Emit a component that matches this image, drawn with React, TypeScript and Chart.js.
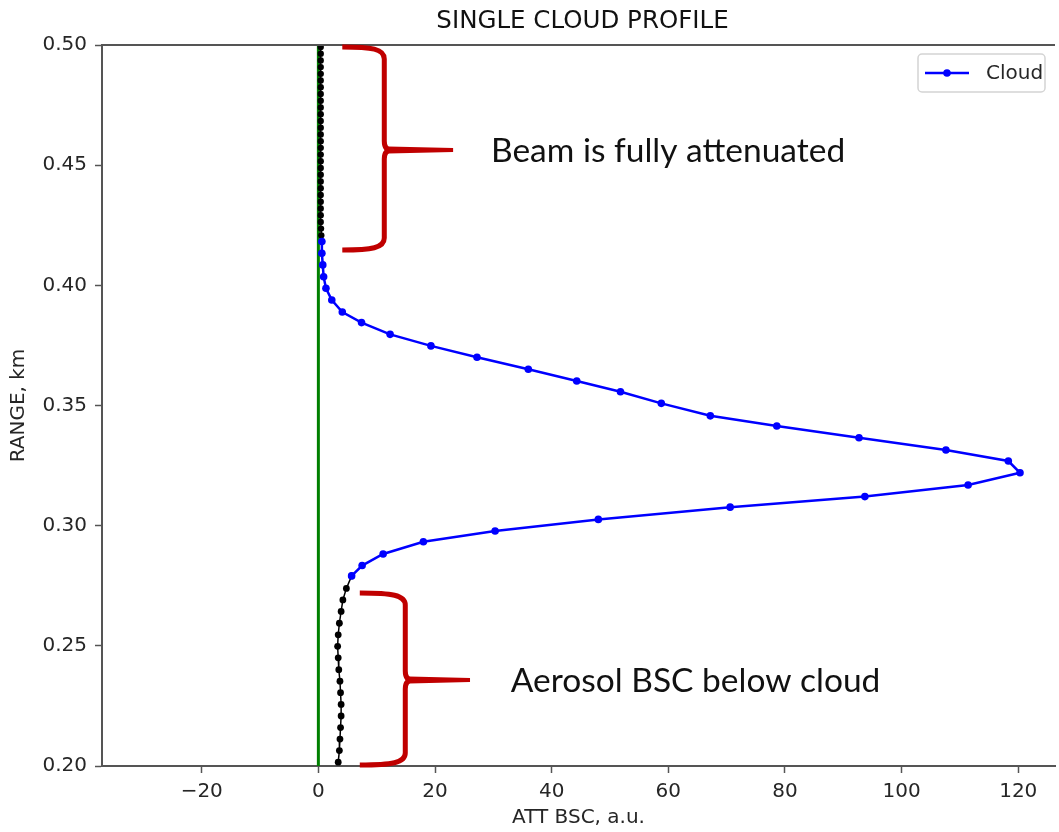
import React, { useEffect, useRef } from "react";
import { Chart, registerables } from "chart.js";

Chart.register(...registerables);

// ---- data ----
const cloudRange = [0.4182, 0.4133, 0.4085, 0.4036, 0.3988, 0.3939, 0.3889, 0.3845, 0.3796, 0.3748, 0.3701, 0.3651, 0.3602, 0.3557, 0.3509, 0.3457, 0.3415, 0.3366, 0.3315, 0.3269, 0.3220, 0.3169, 0.3121, 0.3077, 0.3026, 0.2978, 0.2933, 0.2882, 0.2834, 0.2791];
const cloudBsc = [0.6, 0.6, 0.75, 0.9, 1.3, 2.3, 4.1, 7.4, 12.3, 19.3, 27.2, 36.0, 44.3, 51.8, 58.8, 67.2, 78.6, 92.7, 107.6, 118.3, 120.3, 111.4, 93.7, 70.6, 48.0, 30.3, 18.0, 11.1, 7.5, 5.7];

const aboveRange = [0.4992, 0.4964, 0.4936, 0.4908, 0.4880, 0.4852, 0.4824, 0.4796, 0.4768, 0.4740, 0.4712, 0.4684, 0.4656, 0.4628, 0.4600, 0.4572, 0.4544, 0.4516, 0.4488, 0.4460, 0.4432, 0.4404, 0.4376, 0.4348, 0.4320, 0.4292, 0.4264, 0.4236, 0.4208];
const aboveBsc = [0.4, 0.4, 0.4, 0.4, 0.4, 0.4, 0.4, 0.4, 0.4, 0.4, 0.4, 0.4, 0.4, 0.4, 0.4, 0.4, 0.4, 0.4, 0.4, 0.4, 0.4, 0.4, 0.4, 0.4, 0.4, 0.4, 0.4, 0.45, 0.5];

const belowRange = [0.2791, 0.2739, 0.2691, 0.2643, 0.2594, 0.2546, 0.2498, 0.2450, 0.2401, 0.2353, 0.2305, 0.2256, 0.2208, 0.2160, 0.2112, 0.2064, 0.2016];
const belowBsc = [5.7, 4.8, 4.2, 3.9, 3.6, 3.4, 3.3, 3.4, 3.5, 3.7, 3.8, 3.9, 3.9, 3.8, 3.7, 3.6, 3.4];

const zeroRange = [0.2, 0.5];
const zeroBsc = [0, 0];

const xTicks = [-20, 0, 20, 40, 60, 80, 100, 120];
const yTicks = [0.2, 0.25, 0.3, 0.35, 0.4, 0.45, 0.5];

const chartTitle = "SINGLE CLOUD PROFILE";

// annotation braces (data units)
const noteLabels = ["Beam is fully attenuated", "Aerosol BSC below cloud"];
const noteTop = [0.4992, 0.2720];
const noteBottom = [0.4147, 0.2004];
const noteMid = [0.4563, 0.2358];
const noteArm = [4.1, 7.1];
const noteSpine = [11.3, 14.9];
const noteTip = [23.1, 26.0];
const noteText = [29.6, 33.0];

const TICK_FONT = { family: "'DejaVu Sans', sans-serif", size: 20 };
const TEXT_COLOR = "#262626";

const pts = (xs: number[], ys: number[]) => xs.map((x, i) => ({ x, y: ys[i] }));

const framePlugin = {
  id: "frameAndNotes",
  afterDatasetsDraw(chart: any) {
    const { ctx, chartArea, scales } = chart;
    const xs = scales.x;
    const ys = scales.y;
    ctx.save();
    // top spine
    ctx.strokeStyle = "#555";
    ctx.lineWidth = 2;
    ctx.beginPath();
    ctx.moveTo(chartArea.left - 1, chartArea.top);
    ctx.lineTo(chartArea.right, chartArea.top);
    ctx.stroke();

    // title centred over the axes
    ctx.fillStyle = "#111";
    ctx.font = "24.5px 'DejaVu Sans', sans-serif";
    ctx.textAlign = "center";
    ctx.textBaseline = "middle";
    ctx.fillText(chartTitle, (chartArea.left + chartArea.right) / 2 + 4, chartArea.top - 23);

    // braces
    for (let i = 0; i < noteLabels.length; i++) {
      const yt = ys.getPixelForValue(noteTop[i]);
      const yb = ys.getPixelForValue(noteBottom[i]);
      const ym = ys.getPixelForValue(noteMid[i]);
      const xa = xs.getPixelForValue(noteArm[i]);
      const xsp = xs.getPixelForValue(noteSpine[i]);
      const xt = xs.getPixelForValue(noteTip[i]);
      ctx.strokeStyle = "#c00000";
      ctx.lineWidth = 5;
      ctx.lineJoin = "round";
      ctx.lineCap = "butt";
      ctx.beginPath();
      ctx.moveTo(xa, yt);
      ctx.bezierCurveTo(xa + (xsp - xa) * 0.7, yt, xsp, yt + 2, xsp, yt + 12);
      ctx.lineTo(xsp, ym - 9);
      ctx.quadraticCurveTo(xsp, ym, xsp + 7, ym);
      ctx.moveTo(xsp, yb - 12);
      ctx.lineTo(xsp, ym + 9);
      ctx.quadraticCurveTo(xsp, ym, xsp + 7, ym);
      ctx.moveTo(xsp, yb - 12);
      ctx.bezierCurveTo(xsp, yb - 2, xa + (xsp - xa) * 0.7, yb, xa, yb);
      ctx.stroke();
      // tip
      ctx.fillStyle = "#c00000";
      ctx.beginPath();
      ctx.moveTo(xsp + 4, ym - 3.5);
      ctx.lineTo(xt, ym - 2);
      ctx.lineTo(xt, ym + 2);
      ctx.lineTo(xsp + 4, ym + 3.5);
      ctx.closePath();
      ctx.fill();

      ctx.fillStyle = "#111";
      ctx.font = "33.5px Lato, 'Open Sans', sans-serif";
      ctx.textBaseline = "middle";
      ctx.textAlign = "left";
      ctx.fillText(noteLabels[i], xs.getPixelForValue(noteText[i]), ym + 1);
    }

    // legend inside the plot (upper right)
    const ds = chart.data.datasets[0];
    const bw = 127, bh = 38;
    const bx = chartArea.right - 10 - bw;
    const by = chartArea.top + 9;
    ctx.fillStyle = "rgba(255,255,255,0.85)";
    ctx.strokeStyle = "#d4d4d4";
    ctx.lineWidth = 1.5;
    ctx.beginPath();
    (ctx as any).roundRect(bx, by, bw, bh, 4);
    ctx.fill();
    ctx.stroke();
    const ly = by + bh / 2;
    ctx.strokeStyle = ds.borderColor;
    ctx.lineWidth = 2.5;
    ctx.beginPath();
    ctx.moveTo(bx + 7, ly);
    ctx.lineTo(bx + 51, ly);
    ctx.stroke();
    ctx.fillStyle = ds.backgroundColor;
    ctx.beginPath();
    ctx.arc(bx + 29, ly, 3.8, 0, Math.PI * 2);
    ctx.fill();
    ctx.fillStyle = TEXT_COLOR;
    ctx.font = "20px 'DejaVu Sans', sans-serif";
    ctx.textBaseline = "middle";
    ctx.textAlign = "left";
    ctx.fillText(ds.label, bx + 68, ly + 1);
    ctx.restore();
  },
};

export default function App() {
  const ref = useRef<HTMLCanvasElement | null>(null);
  useEffect(() => {
    if (!ref.current) return;
    const chart = new Chart(ref.current, {
      type: "scatter",
      data: {
        datasets: [
          {
            label: "Cloud",
            data: pts(cloudBsc, cloudRange),
            showLine: true,
            borderColor: "#0000ff",
            backgroundColor: "#0000ff",
            borderWidth: 2.5,
            pointRadius: 3.8,
            pointBorderWidth: 0,
          },
          {
            label: "above",
            data: pts(aboveBsc, aboveRange),
            showLine: true,
            borderColor: "#000",
            backgroundColor: "#000",
            borderWidth: 1.5,
            pointRadius: 3.2,
            pointBorderWidth: 0,
          },
          {
            label: "below",
            data: pts(belowBsc, belowRange),
            showLine: true,
            borderColor: "#000",
            backgroundColor: "#000",
            borderWidth: 1.5,
            pointRadius: 3.4,
            pointBorderWidth: 0,
          },
          {
            label: "zero",
            data: pts(zeroBsc, zeroRange),
            showLine: true,
            borderColor: "#008000",
            backgroundColor: "#008000",
            borderWidth: 3,
            pointRadius: 0,
          },
        ],
      },
      options: {
        animation: false,
        responsive: true,
        maintainAspectRatio: false,
        layout: { padding: { top: 45, left: 0, right: 0, bottom: 0 } },
        plugins: {
          legend: { display: false },
          tooltip: { enabled: false },
          title: { display: false },
        },
        scales: {
          x: {
            type: "linear",
            min: -37.1,
            max: 126.3,
            afterFit: (s: any) => { s.height = 66; },
            afterBuildTicks: (s: any) => { s.ticks = xTicks.map((v) => ({ value: v })); },
            ticks: {
              font: TICK_FONT,
              color: TEXT_COLOR,
              padding: 7,
              maxRotation: 0,
              callback: (v: any) => (Number(v) < 0 ? "\u2212" + Math.abs(Number(v)) : String(v)),
            },
            grid: { drawOnChartArea: false, drawTicks: true, tickLength: 7, tickColor: "#555", tickWidth: 1.5 },
            border: { display: true, color: "#555", width: 2 },
            title: {
              display: true,
              text: "ATT BSC, a.u.",
              color: TEXT_COLOR,
              font: { ...TICK_FONT, lineHeight: 1.2 },
              padding: { top: 0, bottom: 2 },
            },
          },
          y: {
            type: "linear",
            min: 0.2,
            max: 0.5,
            afterFit: (s: any) => { s.width = 102; },
            afterBuildTicks: (s: any) => { s.ticks = yTicks.map((v) => ({ value: v })); },
            ticks: {
              font: TICK_FONT,
              color: TEXT_COLOR,
              padding: 8,
              callback: (v: any) => Number(v).toFixed(2),
            },
            grid: { drawOnChartArea: false, drawTicks: true, tickLength: 7, tickColor: "#555", tickWidth: 1.5 },
            border: { display: true, color: "#555", width: 2 },
            title: {
              display: true,
              text: "RANGE, km",
              color: TEXT_COLOR,
              font: { ...TICK_FONT, lineHeight: 1.2 },
              padding: { top: 7, bottom: 0 },
            },
          },
        },
      },
      plugins: [framePlugin],
    });
    return () => chart.destroy();
  }, []);

  return (
    <div style={{ position: "absolute", left: 0, top: 0, width: 1059, height: 832, background: "#fff" }}>
      <canvas ref={ref} />
    </div>
  );
}
